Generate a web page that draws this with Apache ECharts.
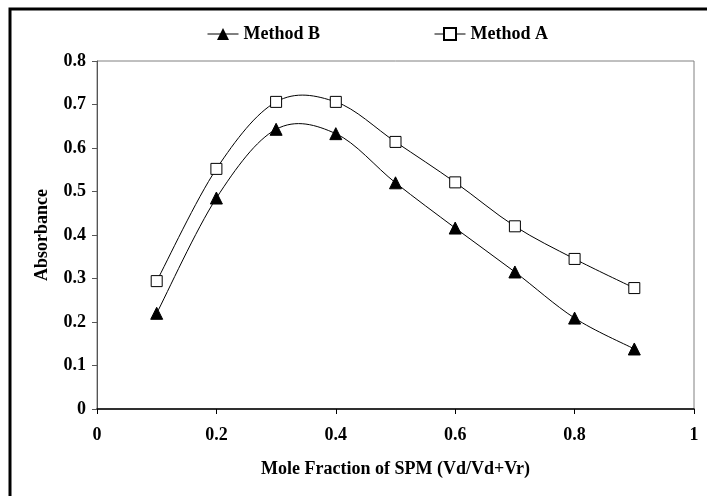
<!DOCTYPE html>
<html>
<head>
<meta charset="utf-8">
<script src="https://cdn.jsdelivr.net/npm/echarts@6/dist/echarts.min.js"></script>
<style>
  html, body { margin: 0; padding: 0; background: #fff; }
  #chart { width: 707px; height: 496px; }
</style>
</head>
<body>
<div id="chart"></div>
<script>
// mole fraction values and absorbance readings
const moleFraction = [0.1, 0.2, 0.3, 0.4, 0.5, 0.6, 0.7, 0.8, 0.9]
const methodB = [0.22, 0.485, 0.643, 0.633, 0.52, 0.416, 0.315, 0.209, 0.138]
const methodA = [0.294, 0.552, 0.706, 0.706, 0.614, 0.521, 0.42, 0.345, 0.278]

const FONT = "'Liberation Serif', 'Times New Roman', serif"
const TEXT = { fontFamily: FONT, fontWeight: 'bold', fontSize: 18, color: '#000' }

const chart = echarts.init(document.getElementById('chart'))

const pairs = (ys) => moleFraction.map((x, i) => [x, ys[i]])

// Excel-like smoothed curve: one bezier per segment, drawn through the axes
function smoothSegment(ys) {
  return function (params, api) {
    const i = params.dataIndex
    if (i >= ys.length - 1) return null
    const p = (k) => {
      const j = Math.max(0, Math.min(ys.length - 1, k))
      return api.coord([moleFraction[j], ys[j]])
    }
    const p0 = p(i - 1), p1 = p(i), p2 = p(i + 1), p3 = p(i + 2)
    const t = 1 / 6
    return {
      type: 'bezierCurve',
      shape: {
        x1: p1[0], y1: p1[1],
        x2: p2[0], y2: p2[1],
        cpx1: p1[0] + (p2[0] - p0[0]) * t, cpy1: p1[1] + (p2[1] - p0[1]) * t,
        cpx2: p2[0] - (p3[0] - p1[0]) * t, cpy2: p2[1] - (p3[1] - p1[1]) * t,
      },
      style: { fill: 'none', stroke: '#000', lineWidth: 1 },
    }
  }
}

chart.setOption({
  animation: false,
  textStyle: { fontFamily: FONT },
  graphic: [{
    type: 'rect',
    shape: { x: 10, y: 9, width: 720, height: 520 },
    style: { fill: 'none', stroke: '#000', lineWidth: 3 },
  }],
  legend: {
    left: 202,
    top: 20,
    itemGap: 114,
    itemWidth: 31,
    itemHeight: 15,
    textStyle: TEXT,
    data: [
      { name: 'Method B', lineStyle: { opacity: 1, color: '#000', width: 1 } },
      { name: 'Method A', lineStyle: { opacity: 1, color: '#000', width: 1 } },
    ],
  },
  grid: {
    left: 97, right: 13, top: 61, bottom: 87,
    show: true, borderColor: '#808080', borderWidth: 1,
  },
  xAxis: {
    type: 'value',
    min: 0, max: 1, interval: 0.2,
    name: 'Mole Fraction of SPM (Vd/Vd+Vr)',
    nameLocation: 'middle',
    nameGap: 51,
    nameTextStyle: TEXT,
    axisLine: { show: true, lineStyle: { color: '#000', width: 1.5 } },
    axisTick: { show: true, length: 5, lineStyle: { color: '#000' } },
    axisLabel: { ...TEXT, margin: 17 },
    splitLine: { show: false },
  },
  yAxis: {
    type: 'value',
    min: 0, max: 0.8, interval: 0.1,
    name: 'Absorbance',
    nameLocation: 'middle',
    nameGap: 46,
    nameTextStyle: TEXT,
    axisLine: { show: true, lineStyle: { color: '#555', width: 1 } },
    axisTick: { show: true, length: 5, lineStyle: { color: '#555' } },
    axisLabel: { ...TEXT, margin: 11 },
    splitLine: { show: false },
  },
  series: [
    {
      name: 'Method B',
      type: 'line',
      data: pairs(methodB),
      symbol: 'triangle',
      symbolSize: 12,
      z: 3,
      itemStyle: { color: '#000', borderColor: '#000' },
      lineStyle: { color: '#000', width: 1, opacity: 0 },
    },
    {
      name: 'Method A',
      type: 'line',
      data: pairs(methodA),
      symbol: 'rect',
      symbolSize: 11,
      z: 3,
      itemStyle: { color: '#fff', borderColor: '#000', borderWidth: 1 },
      lineStyle: { color: '#000', width: 1, opacity: 0 },
    },
    {
      name: 'curveB',
      type: 'custom',
      data: pairs(methodB),
      renderItem: smoothSegment(methodB),
      z: 1,
      silent: true,
    },
    {
      name: 'curveA',
      type: 'custom',
      data: pairs(methodA),
      renderItem: smoothSegment(methodA),
      z: 1,
      silent: true,
    },
  ],
})
</script>
</body>
</html>
